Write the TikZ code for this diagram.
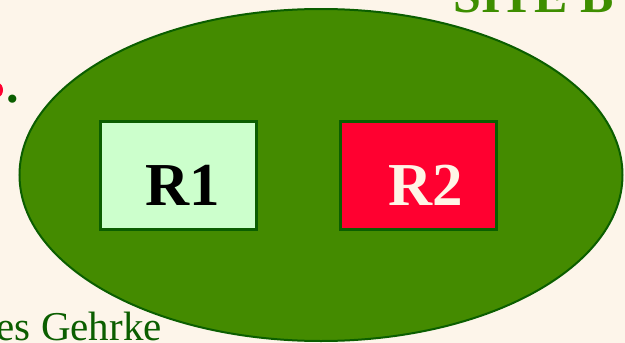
\documentclass[tikz,border=0pt]{standalone}
\usepackage{fontspec}
\usetikzlibrary{shapes.geometric}
\setmainfont{Liberation Serif}
\definecolor{bgc}{HTML}{FDF5EA}
\definecolor{ellfill}{HTML}{448B00}
\definecolor{darkg}{HTML}{0B5E00}
\definecolor{rone}{HTML}{CCFFCC}
\definecolor{rtwo}{HTML}{FF0030}
\definecolor{cream}{HTML}{FFF5E6}
\definecolor{siteg}{HTML}{3E8E00}
\begin{document}
\begin{tikzpicture}[x=1pt,y=-1pt,
  rbox/.style={draw=darkg,line width=2.2pt,minimum width=156pt,minimum height=108pt,inner sep=0pt},
  rlabel/.style={anchor=base,inner sep=0pt,font=\fontsize{61}{64}\selectfont\bfseries}]
\useasboundingbox (0,0) rectangle (625,343);
\fill[bgc] (0,0) rectangle (625,343);
\begin{scope}
\clip (0,0) rectangle (625,343);
\node[ellipse,draw=darkg,fill=ellfill,line width=2pt,minimum width=603pt,minimum height=332pt,inner sep=0pt] (site) at (321,175) {};
\node[anchor=base east,text=siteg,font=\fontsize{50}{52}\selectfont\bfseries] (title) at (617,12.5) {SITE B};
\node[anchor=base east,inner sep=0pt,text=darkg,font=\fontsize{41}{42}\selectfont] (auth) at (162,340) {es Gehrke};
\fill[rtwo] (-2,90) ellipse (5pt and 7pt);
\node[anchor=base,text=darkg,font=\fontsize{50}{50}\selectfont\bfseries,inner sep=0pt] (dot) at (13,102) {.};
\end{scope}
\node[rbox,fill=rone] (r1) at (178.5,175.5) {};
\node[rbox,fill=rtwo] (r2) at (418.5,175.5) {};
\node[rlabel,text=black] (t1) at (183,205) {R1};
\node[rlabel,text=cream] (t2) at (426,205) {R2};
\end{tikzpicture}
\end{document}
